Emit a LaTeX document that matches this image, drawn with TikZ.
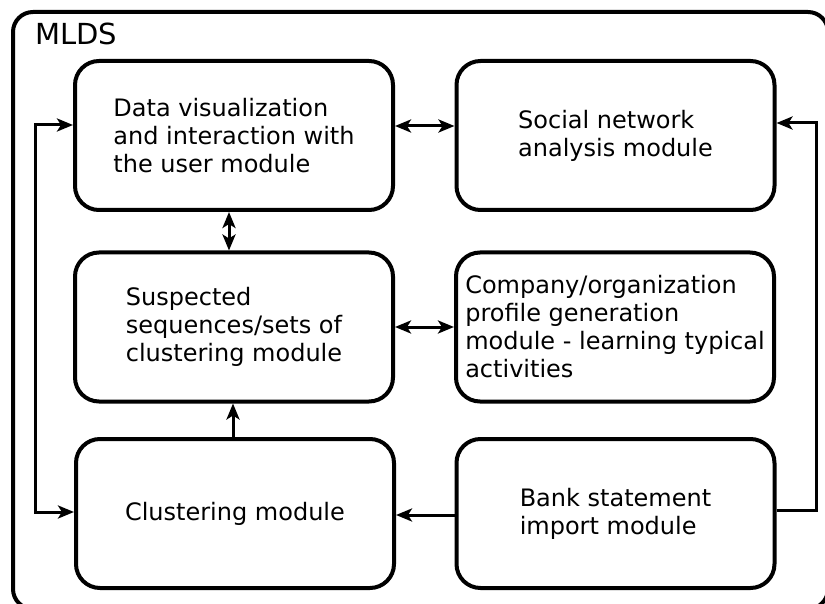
\documentclass[tikz,border=0pt]{standalone}
\usepackage{fontspec}
\setmainfont{DejaVu Sans}
\usetikzlibrary{arrows.meta,calc}
\begin{document}
\begin{tikzpicture}[x=1pt,y=-1pt,
  module/.style={draw,line width=4pt,rounded corners=24pt,minimum width=318pt,minimum height=149pt,align=left,font=\fontsize{24}{28}\selectfont,inner sep=0pt},
  conn/.style={line width=3pt},
  sgl/.style={-{Stealth[length=16pt,width=13pt,inset=4pt]}},
  dbl/.style={{Stealth[length=16pt,width=13pt,inset=4pt]}-{Stealth[length=16pt,width=13pt,inset=4pt]}}
]
\useasboundingbox (0,0) rectangle (825,604);
\clip (0,0) rectangle (825,604);
\draw[line width=4pt,rounded corners=20pt] (13,12) rectangle (828,609);
\node[anchor=base west,inner sep=0pt,font=\fontsize{29}{34}\selectfont] (title) at (35,45) {MLDS};

\node[module] (dv) at (234,135.5) {Data visualization\\and interaction with\\the user module};
\node[module] (sn) at (615.5,135.5) {Social network\\analysis module};
\node[module] (sq) at (234,327) {Suspected\\sequences/sets of\\clustering module};
\node[module] (cp) at (615,327) {Company/organization\\profile generation\\module - learning typical\\activities};
\node[module] (cl) at (235,513.5) {Clustering module};
\node[module] (bk) at (615.5,513.5) {Bank statement\\import module};

\draw[conn,dbl] (dv.east |- 0,126) -- (sn.west |- 0,126);
\draw[conn,dbl] (dv.south -| 229,0) -- (sq.north -| 229,0);
\draw[conn,dbl] (sq.east) -- (cp.west);
\draw[conn,sgl] (cl.north -| 233,0) -- (sq.south -| 233,0);
\draw[conn,sgl] (bk.west |- 0,515) -- (cl.east |- 0,515);
\draw[conn,sgl] (bk.east |- 0,510) -- ++(40,0) |- (sn.east |- 0,123);
\draw[conn,dbl] (dv.west |- 0,125) -- ++(-38,0) |- (cl.west |- 0,512);
\end{tikzpicture}
\end{document}
